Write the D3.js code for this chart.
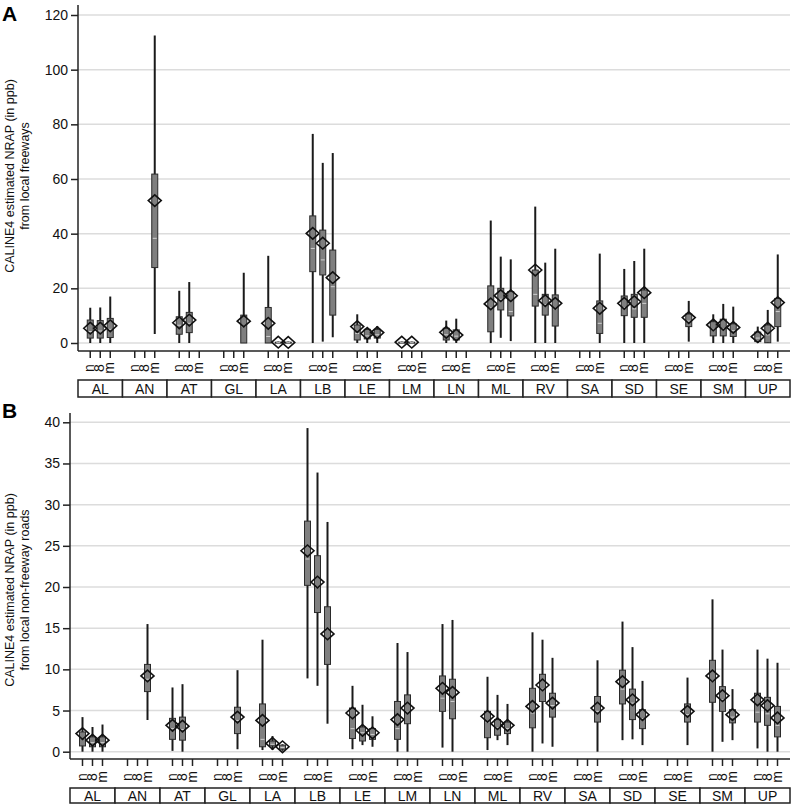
<!DOCTYPE html>
<html>
<head>
<meta charset="utf-8">
<script src="https://cdn.jsdelivr.net/npm/d3@7"></script>
<style>
  body { margin: 0; background: #fff; }
  svg { font-family: "Liberation Sans", Arial, sans-serif; }
</style>
</head>
<body>
<div id="chart"></div>
<script>
var width = 800;
var height = 805;

// communities along the x axis
var groups = ["AL","AN","AT","GL","LA","LB","LE","LM","LN","ML","RV","SA","SD","SE","SM","UP"];
// three sub categories per community (printed sideways)
var subLabels = ["n","8","m"];

var ticksA = [0,20,40,60,80,100,120];
var ticksB = [0,5,10,15,20,25,30,35,40];

// [group, sub, whisker low, q1, median, q3, whisker high, mean]
var freeways = [
  ["AL",0, 0, 1.8, 4.2, 8.4, 12.9, 5.4],
  ["AL",1, 0, 1.8, 4.4, 8.2, 13.0, 5.4],
  ["AL",2, 0, 2.0, 5.0, 9.0, 17.0, 6.3],
  ["AN",2, 3.3, 27.6, 38.3, 61.8, 112.5, 52.1],
  ["AT",0, 0, 3.2, 6.5, 9.6, 19.1, 7.4],
  ["AT",1, 0, 3.8, 7.2, 11.2, 22.3, 8.4],
  ["GL",2, 0, 0, 6.0, 10.2, 25.7, 8.0],
  ["LA",0, 0, 0, 2.4, 13.0, 31.9, 7.2],
  ["LA",1, 0, 0, 0.1, 0.3, 0.5, 0.3],
  ["LA",2, 0, 0, 0.1, 0.3, 0.5, 0.2],
  ["LB",0, 0, 26.1, 34.6, 46.5, 76.5, 40.1],
  ["LB",1, 0.5, 24.9, 30.4, 41.3, 65.9, 36.5],
  ["LB",2, 2.1, 10.2, 20.6, 34.0, 69.5, 23.9],
  ["LE",0, 0, 1.1, 3.5, 6.6, 10.5, 6.0],
  ["LE",1, 0, 1.5, 2.6, 5.0, 5.4, 3.5],
  ["LE",2, 0, 1.8, 3.0, 5.0, 6.2, 3.8],
  ["LM",0, 0, 0, 0.1, 0.3, 0.5, 0.3],
  ["LM",1, 0, 0, 0.1, 0.3, 0.5, 0.3],
  ["LN",0, 0, 1.1, 3.0, 5.4, 8.2, 3.9],
  ["LN",1, 0, 1.1, 2.5, 4.8, 8.9, 2.9],
  ["ML",0, 0, 4.1, 12.8, 20.9, 44.8, 14.3],
  ["ML",1, 1.9, 12.1, 16.0, 20.0, 31.6, 17.3],
  ["ML",2, 0.7, 9.9, 11.5, 18.8, 30.6, 17.3],
  ["RV",0, 0, 13.5, 17.8, 26.7, 49.9, 26.7],
  ["RV",1, 0, 10.2, 14.0, 17.8, 29.4, 15.5],
  ["RV",2, 0, 6.2, 12.5, 17.6, 34.5, 14.5],
  ["SA",2, 0, 3.5, 7.2, 15.4, 32.7, 12.7],
  ["SD",0, 0, 10.0, 13.0, 17.2, 27.1, 14.5],
  ["SD",1, 0, 9.4, 12.5, 17.8, 30.0, 15.1],
  ["SD",2, 0, 9.4, 14.5, 19.4, 34.5, 18.4],
  ["SE",2, 0.5, 6.0, 8.0, 10.6, 15.4, 9.3],
  ["SM",0, 0, 2.6, 5.0, 7.8, 10.5, 6.6],
  ["SM",1, 0, 2.6, 5.2, 8.7, 14.3, 6.8],
  ["SM",2, 0, 2.4, 4.5, 7.0, 13.3, 5.7],
  ["UP",0, 0, 0.5, 1.8, 4.0, 6.0, 2.3],
  ["UP",1, 0, 0.1, 3.0, 6.6, 12.1, 5.4],
  ["UP",2, 0.5, 6.0, 11.5, 16.3, 32.4, 14.8]
];

var nonFreeways = [
  ["AL",0, 0, 0.7, 1.6, 2.4, 4.2, 2.2],
  ["AL",1, 0, 0.6, 1.1, 1.8, 3.0, 1.4],
  ["AL",2, 0, 0.6, 1.1, 1.8, 3.3, 1.4],
  ["AN",2, 3.85, 7.3, 8.8, 10.6, 15.5, 9.2],
  ["AT",0, 0.1, 1.5, 2.8, 4.05, 7.8, 3.2],
  ["AT",1, 0, 1.4, 2.7, 4.2, 8.2, 3.1],
  ["GL",2, 0.3, 2.2, 3.8, 5.4, 9.9, 4.2],
  ["LA",0, 0.2, 0.6, 1.5, 5.8, 13.6, 3.8],
  ["LA",1, 0.2, 0.7, 0.9, 1.3, 1.9, 1.0],
  ["LA",2, 0.1, 0.3, 0.5, 0.8, 0.9, 0.6],
  ["LB",0, 8.9, 20.2, 23.4, 28.0, 39.3, 24.4],
  ["LB",1, 8.0, 16.9, 20.0, 23.8, 33.9, 20.6],
  ["LB",2, 3.4, 10.6, 14.9, 17.6, 27.9, 14.3],
  ["LE",0, 0.3, 1.6, 2.8, 5.3, 8.0, 4.7],
  ["LE",1, 0.8, 1.3, 2.3, 3.0, 5.7, 2.6],
  ["LE",2, 0.6, 1.5, 2.1, 2.8, 4.3, 2.3],
  ["LM",0, 0, 1.5, 2.8, 6.1, 13.2, 3.9],
  ["LM",1, 0, 3.4, 4.8, 6.9, 12.1, 5.3],
  ["LN",0, 0.5, 4.9, 6.5, 9.2, 15.5, 7.7],
  ["LN",1, 0, 4.0, 6.1, 8.8, 16.0, 7.2],
  ["ML",0, 0.2, 1.7, 3.6, 4.9, 9.1, 4.3],
  ["ML",1, 1.4, 2.0, 2.9, 3.9, 6.9, 3.4],
  ["ML",2, 0.8, 2.2, 2.8, 3.6, 5.8, 3.2],
  ["RV",0, 0, 2.9, 4.7, 7.7, 14.5, 5.5],
  ["RV",1, 1.0, 6.1, 7.6, 9.4, 13.6, 8.1],
  ["RV",2, 0.6, 4.2, 5.6, 7.1, 11.4, 5.9],
  ["SA",2, 0, 3.6, 4.9, 6.7, 11.1, 5.3],
  ["SD",0, 1.4, 5.8, 7.6, 9.9, 15.8, 8.5],
  ["SD",1, 1.5, 3.9, 5.9, 7.6, 12.7, 6.3],
  ["SD",2, 0.8, 2.8, 4.0, 5.1, 8.6, 4.5],
  ["SE",2, 0.8, 3.6, 4.5, 5.8, 9.0, 4.9],
  ["SM",0, 0, 6.0, 8.6, 11.1, 18.5, 9.2],
  ["SM",1, 1.2, 4.9, 6.3, 7.9, 12.4, 6.8],
  ["SM",2, 1.4, 3.5, 4.2, 5.1, 7.6, 4.5],
  ["UP",0, 0.4, 3.6, 4.8, 7.1, 12.4, 6.3],
  ["UP",1, 0, 3.2, 4.6, 6.6, 11.3, 5.6],
  ["UP",2, 0, 1.8, 3.2, 5.5, 10.8, 4.1]
];

const svg = d3.select("#chart")
    .append("svg")
    .attr("width", width)
    .attr("height", height);

function drawPanel(opt){
    var x = d3.scaleBand().domain(groups).range([opt.left, 790]).padding(0);
    var bw = x.bandwidth();
    var sub = d3.scalePoint().domain([0,1,2]).range([bw/2 - 10, bw/2 + 10]);
    var y = d3.scaleLinear().domain(opt.domain).range([opt.bottom, opt.top]);
    var px = function(d){ return x(d[0]) + sub(d[1]); };

    var g = svg.append("g");

    // gridlines
    g.append("g").selectAll("line").data(opt.ticks).join("line")
        .attr("x1", opt.left).attr("x2", 790)
        .attr("y1", d => y(d)).attr("y2", d => y(d))
        .attr("stroke", "#dcdcdc").attr("stroke-width", 1.5);

    // y axis
    var ya = g.append("g")
        .attr("transform", "translate(" + opt.left + ",0)")
        .call(d3.axisLeft(y).tickValues(opt.ticks).tickSize(7).tickPadding(3));
    ya.select(".domain").attr("d", "M0," + opt.axisTop + "V" + (opt.xAxis));
    ya.selectAll("path, line").attr("stroke", "#222").attr("stroke-width", 1.5);
    ya.selectAll("text").attr("font-size", 14).attr("fill", "#111")
        .attr("font-family", "Liberation Sans, Arial, sans-serif");

    // x axis line + ticks
    g.append("line")
        .attr("x1", opt.left).attr("x2", 790)
        .attr("y1", opt.xAxis).attr("y2", opt.xAxis)
        .attr("stroke", "#222").attr("stroke-width", 1.5);
    var subPos = [];
    groups.forEach(function(gr){ [0,1,2].forEach(function(s){ subPos.push([gr, s]); }); });
    g.append("g").selectAll("line").data(subPos).join("line")
        .attr("x1", px).attr("x2", px)
        .attr("y1", opt.xAxis).attr("y2", opt.xAxis + 7)
        .attr("stroke", "#222").attr("stroke-width", 1.5);
    g.append("g").selectAll("text").data(subPos).join("text")
        .attr("transform", d => "translate(" + px(d) + "," + opt.subY + ") rotate(-90)")
        .attr("text-anchor", "middle")
        .attr("dy", "0.3em")
        .attr("font-size", 14)
        .attr("fill", "#111")
        .text(d => subLabels[d[1]]);

    // community boxes
    var cat = g.append("g").selectAll("g").data(groups).join("g");
    cat.append("rect")
        .attr("x", d => x(d)).attr("y", opt.catY)
        .attr("width", bw).attr("height", opt.catH)
        .attr("fill", "#fff").attr("stroke", "#222").attr("stroke-width", 1.5);
    cat.append("text")
        .attr("x", d => x(d) + bw/2).attr("y", opt.catY + opt.catH/2)
        .attr("dy", "0.36em").attr("text-anchor", "middle")
        .attr("font-size", 14).attr("fill", "#111")
        .text(d => d);

    // whiskers
    var marks = g.append("g").selectAll("g").data(opt.data).join("g");
    marks.append("line")
        .attr("x1", px).attr("x2", px)
        .attr("y1", d => y(d[2])).attr("y2", d => y(d[6]))
        .attr("stroke", "#1a1a1a").attr("stroke-width", 2);
    // boxes
    marks.append("rect")
        .attr("x", d => px(d) - 3).attr("width", 6)
        .attr("y", d => y(d[5])).attr("height", d => Math.max(1, y(d[3]) - y(d[5])))
        .attr("fill", "#7f7f7f").attr("stroke", "#2a2a2a").attr("stroke-width", 1);
    // medians
    marks.append("line")
        .attr("x1", d => px(d) - 2).attr("x2", d => px(d) + 2)
        .attr("y1", d => y(d[4])).attr("y2", d => y(d[4]))
        .attr("stroke", "#d0d0d0").attr("stroke-width", 1);
    // means
    marks.append("path")
        .attr("d", d => {
            var cx = px(d), cy = y(d[7]), rx = 6.5, ry = 5.8;
            return "M" + (cx - rx) + "," + cy + "L" + cx + "," + (cy - ry) + "L" + (cx + rx) + "," + cy + "L" + cx + "," + (cy + ry) + "Z";
        })
        .attr("fill", "none").attr("stroke", "#111").attr("stroke-width", 1.6);

    // y title
    var tx = svg.append("text")
        .attr("transform", "translate(0," + opt.titleY + ") rotate(-90)")
        .attr("text-anchor", "middle")
        .attr("font-size", 12.5)
        .attr("fill", "#111");
    tx.append("tspan").attr("x", 0).attr("y", 14).text("CALINE4 estimated NRAP (in ppb)");
    tx.append("tspan").attr("x", 0).attr("y", 29).text(opt.title2);

    // panel letter
    svg.append("text")
        .attr("x", 2).attr("y", opt.letterY)
        .attr("font-size", 21).attr("font-weight", "bold").attr("fill", "#000")
        .text(opt.letter);
}

drawPanel({
    data: freeways, domain: [0,120], ticks: ticksA,
    left: 78, top: 15, bottom: 343, axisTop: 5, xAxis: 351,
    subY: 368, catY: 380, catH: 17,
    titleY: 176, title2: "from local freeways",
    letter: "A", letterY: 21
});

drawPanel({
    data: nonFreeways, domain: [0,40], ticks: ticksB,
    left: 70, top: 422.3, bottom: 751.7, axisTop: 413, xAxis: 759,
    subY: 777, catY: 788, catH: 15,
    titleY: 590, title2: "from local non-freeway roads",
    letter: "B", letterY: 418
});
</script>
</body>
</html>
